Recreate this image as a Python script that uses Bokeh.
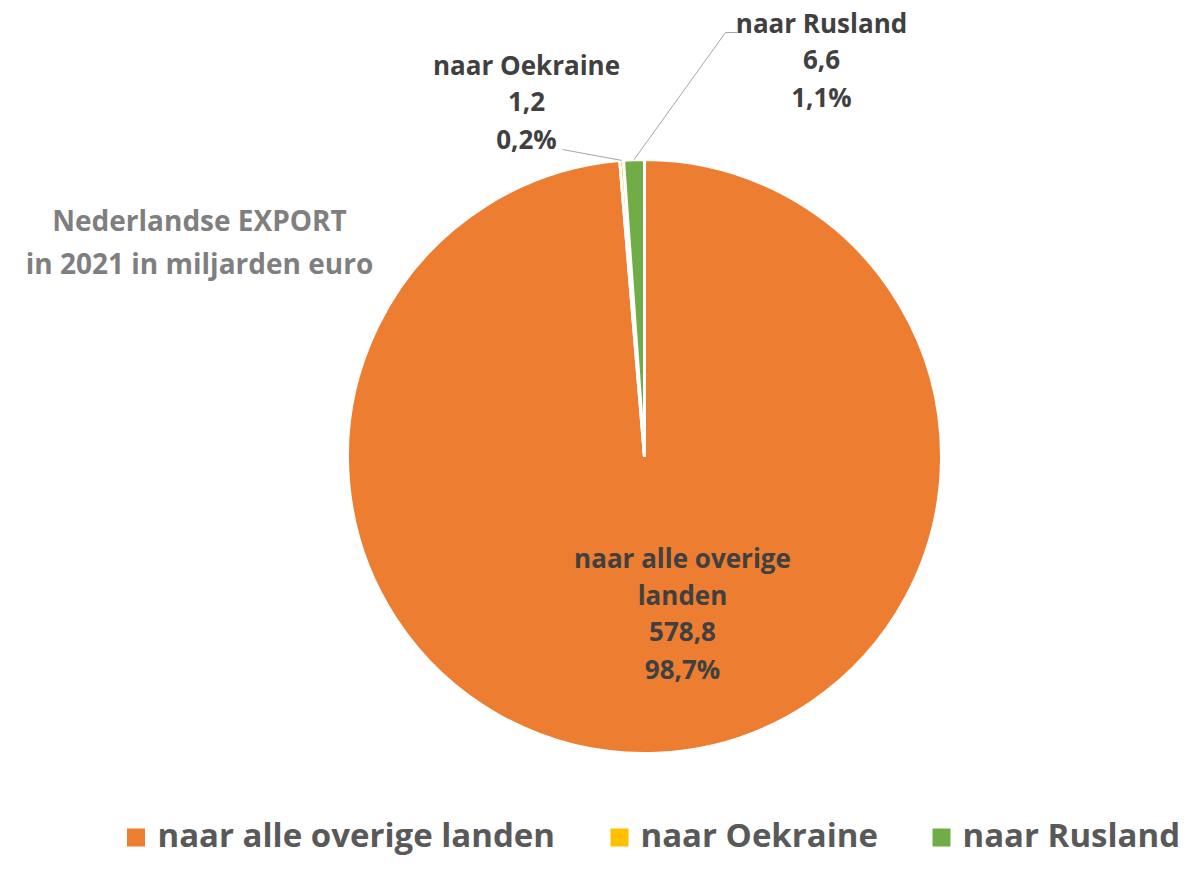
import math
import textwrap
from bokeh.plotting import figure
from bokeh.models import Range1d, ColumnDataSource
from bokeh.core.properties import value
from bokeh.embed import file_html
from bokeh.resources import INLINE

# ---- data ----
categories = ["naar alle overige landen", "naar Oekraine", "naar Rusland"]
values = [578.8, 1.2, 6.6]
colors = ["#ED7D31", "#FFC000", "#70AD47"]
title_lines = ["Nederlandse EXPORT", "in 2021 in miljarden euro"]

# ---- layout (pixel coords of the picture, y downward) ----
PW, PH = 1186, 857
FONT = "Open Sans"
def Y(py):
    return PH - py

cx, cy, R = 644, Y(456), 297
label_anchor = [(682, 557), (526, 64), (821, 22)]
line_step = 37
leader_start = [None, [(562, 149)], [(737, 32), (725, 32)]]
legend_sq_x = [135.5, 619, 941]
legend_txt_x = [157, 640, 962]
legend_mid = 834

p = figure(width=PW, height=PH, x_range=Range1d(0, PW), y_range=Range1d(0, PH),
           output_backend="svg", toolbar_location=None, min_border=0,
           x_axis_type=None, y_axis_type=None)
p.grid.visible = False
p.outline_line_color = None
p.background_fill_color = "white"
p.border_fill_color = "white"

total = sum(values)
cum = [0.0]
for v in values:
    cum.append(cum[-1] + v / total)
start = [math.pi / 2 - 2 * math.pi * cum[i + 1] for i in range(len(values))]
end = [math.pi / 2 - 2 * math.pi * cum[i] for i in range(len(values))]

src = ColumnDataSource(dict(start=start, end=end, color=colors, cat=categories, val=values))
p.wedge(x=cx, y=cy, radius=R, start_angle="start", end_angle="end", direction="anticlock",
        fill_color="color", line_color="white", line_width=3, source=src)

def fmt(x):
    return f"{x:.1f}".replace(".", ",")

# data labels
for i, (cat, v) in enumerate(zip(categories, values)):
    lines = textwrap.wrap(cat, 18) + [fmt(v), fmt(100 * v / total) + "%"]
    ax, ay = label_anchor[i]
    p.text(x=[ax] * len(lines), y=[Y(ay + k * line_step) for k in range(len(lines))], text=lines,
           text_font=value(FONT), text_font_style="bold", text_font_size="26px",
           text_color="#404040", text_align="center", text_baseline="middle")
    # leader lines
    if leader_start[i] is not None:
        mid = 2 * math.pi * (cum[i] + cum[i + 1]) / 2
        ex = cx + R * math.sin(mid)
        ey = cy + R * math.cos(mid)
        xs = [a for a, b in leader_start[i]] + [ex]
        ys = [Y(b) for a, b in leader_start[i]] + [ey]
        p.line(xs, ys, line_color="#A6A6A6", line_width=1)

# title
p.text(x=[199, 199], y=[Y(219), Y(262)], text=title_lines, text_font=value(FONT),
       text_font_style="bold", text_font_size="28px", text_color="#7F7F7F",
       text_align="center", text_baseline="middle")

# legend
p.rect(x=legend_sq_x, y=[Y(legend_mid + 3)] * 3, width=18, height=18, fill_color=colors, line_color=None)
p.text(x=legend_txt_x, y=[Y(legend_mid)] * 3, text=categories, text_font=value(FONT),
       text_font_style="bold", text_font_size="33px", text_color="#595959",
       text_align="left", text_baseline="middle")

open("out.html", "w").write(file_html(p, INLINE))
